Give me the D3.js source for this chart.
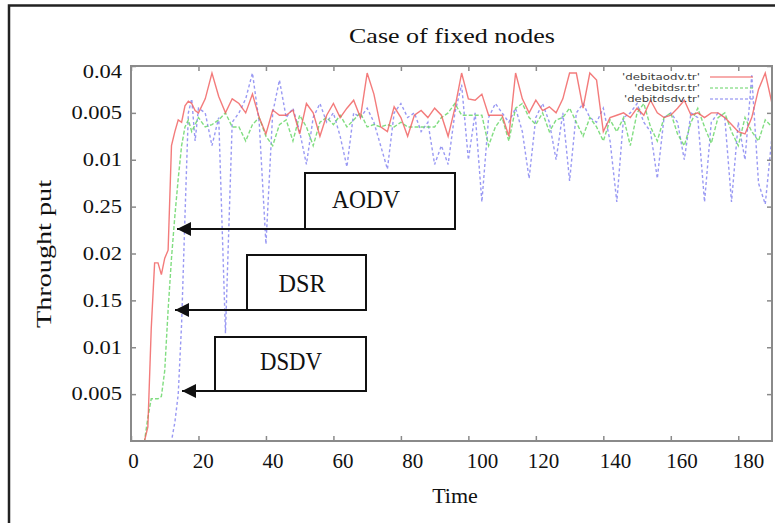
<!DOCTYPE html>
<html>
<head>
<meta charset="utf-8">
<script src="https://cdn.jsdelivr.net/npm/d3@7"></script>
<style>
  html, body { margin: 0; padding: 0; background: #fff; }
  svg { display: block; }
</style>
</head>
<body>
<div id="chart"></div>
<script>
// time samples (s), shared by the three traces
const time = [0, 1, 2, 3, 4, 5, 6, 7, 8, 9, 10, 11, 12, 13, 14, 15, 16, 17, 18, 19, 20,
  22, 24, 26, 28, 30, 32, 34, 36, 38, 40,
  42, 44, 46, 48, 50, 52, 54, 56, 58, 60,
  62, 64, 66, 68, 70, 72, 74, 76, 78, 80,
  82, 84, 86, 88, 90, 92, 94, 96, 98, 100,
  102, 104, 106, 108, 110, 112, 114, 116, 118, 120,
  122, 124, 126, 128, 130, 132, 134, 136, 138, 140,
  142, 144, 146, 148, 150, 152, 154, 156, 158, 160,
  162, 164, 166, 168, 170, 172, 174, 176, 178, 180,
  182, 184, 186, 188, 190]

// values are read in units of the y tick rows (0 = bottom, 8 = top)
const aodv = [0, 0, 0, 0, 0, 0.3, 2.4, 3.8, 3.8, 3.55, 3.9, 4.07, 6.3, 6.6, 6.85, 6.8, 7.15, 7.25, 7.2, 7.05, 7.0,
  7.3, 7.85, 7.35, 7.0, 7.3, 7.2, 7.0, 7.4, 6.9, 6.55,
  7.06, 6.95, 6.95, 7.06, 6.55, 7.2, 7.0, 6.5, 6.95, 7.2,
  6.9, 7.1, 7.27, 6.9, 7.85, 7.4, 6.7, 6.6, 7.13, 6.9,
  6.5, 6.95, 7.05, 6.9, 7.1, 6.95, 6.5, 7.1, 7.85, 7.3,
  7.27, 7.4, 6.95, 6.95, 6.95, 6.5, 7.85, 7.3, 7.0, 7.27,
  7.05, 7.13, 7.0, 7.3, 7.85, 7.85, 7.1, 7.85, 7.7, 6.6,
  6.9, 6.95, 7.0, 6.9, 7.1, 6.95, 7.27, 7.0, 6.9, 6.95,
  7.1, 7.27, 6.95, 7.0, 6.9, 7.0, 7.0, 6.9, 6.75, 6.6,
  6.55, 6.9, 7.5, 7.85, 7.2]

const dsr = [0, 0, 0, 0, 0, 0.5, 0.9, 0.9, 0.9, 0.95, 1.5, 2.8, 3.9, 4.8, 5.6, 6.3, 6.7, 6.85, 6.6, 6.75, 6.9,
  6.7, 6.75, 6.85, 7.0, 6.7, 6.7, 6.4, 6.75, 6.9, 6.5,
  6.3, 6.75, 6.85, 6.4, 6.95, 6.7, 6.3, 6.8, 6.9, 6.75,
  6.95, 6.7, 6.85, 7.0, 6.7, 6.75, 6.7, 6.75, 6.7, 6.8,
  6.7, 6.7, 6.7, 6.7, 6.7, 6.9, 7.0, 7.2, 6.95, 6.95,
  6.95, 6.95, 6.3, 6.7, 6.9, 6.4, 7.1, 7.2, 6.9, 6.75,
  7.0, 6.6, 6.85, 6.9, 7.1, 6.8, 6.5, 6.9, 6.7, 6.4,
  6.85, 6.6, 6.9, 6.3, 7.0, 7.2, 6.7, 6.4, 6.9, 7.0,
  6.55, 6.3, 6.8, 7.1, 6.7, 6.35, 6.9, 7.0, 6.6, 6.3,
  6.9, 6.6, 6.4, 6.85, 6.7]

const dsdv = [0, 0, 0, 0, 0, 0, 0, 0, 0, 0, 0, 0, 0, 0.4, 1.0, 2.5, 4.8, 7.0, 7.3, 6.4, 7.1,
  7.0, 6.3, 6.9, 2.3, 6.8, 7.0, 7.3, 7.85, 6.8, 4.2,
  7.0, 7.7, 6.9, 7.1, 6.6, 5.9, 6.9, 7.2, 6.8, 7.0,
  6.5, 5.85, 7.0, 6.9, 7.1, 6.8, 6.3, 5.8, 7.0, 7.2,
  6.9, 7.0, 6.6, 6.8, 5.9, 6.3, 5.9, 7.0, 7.6, 6.0,
  7.0, 5.1, 6.9, 7.2, 7.0, 6.8, 7.1, 6.6, 5.6, 6.9,
  7.2, 6.8, 6.0, 7.0, 5.55, 7.0, 7.2, 6.9, 6.8, 7.1,
  6.4, 5.1, 6.9, 7.0, 7.2, 6.8, 6.6, 5.6, 6.9, 7.0,
  6.8, 6.0, 7.0, 6.9, 5.1, 6.8, 7.0, 6.9, 5.1, 6.8,
  6.0, 7.8, 5.5, 5.05, 6.5]

const xTicks = [0, 20, 40, 60, 80, 100, 120, 140, 160, 180]
const yTickRows = [1, 2, 3, 4, 5, 6, 7, 8]
const yTickLabels = ['0.005', '0.01', '0.15', '0.02', '0.25', '0.01', '0.005', '0.04']
const legendNames = ["'debitaodv.tr'", "'debitdsr.tr'", "'debitdsdv.tr'"]
const protocolNames = ['AODV', 'DSR', 'DSDV']

const width = 775
const height = 523
const serif = "'Liberation Serif', 'Times New Roman', serif"

const svg = d3.select('#chart')
  .append('svg')
  .attr('width', width)
  .attr('height', height)

// outer frame of the pasted figure (right and bottom edges are cut off)
svg.append('rect')
  .attr('x', 9)
  .attr('y', 5.5)
  .attr('width', 820)
  .attr('height', 560)
  .attr('fill', 'none')
  .attr('stroke', '#222')
  .attr('stroke-width', 2.5)

const plot = { left: 131, right: 772, top: 66, bottom: 441 }

const x = d3.scaleLinear().domain([0, 190]).range([plot.left, plot.right])
// the typed-over x labels drift a little from the tick marks
const xLabel = d3.scaleLinear().domain([0, 100, 120, 140, 180]).range([133, 482, 543, 615, 748])
const y = d3.scaleLinear().domain([0, 8]).range([plot.bottom, plot.top])

const defs = svg.append('defs')
defs.append('clipPath')
  .attr('id', 'plot-clip')
  .append('rect')
  .attr('x', plot.left)
  .attr('y', plot.top - 2)
  .attr('width', plot.right - plot.left)
  .attr('height', plot.bottom - plot.top + 2)

// series
const seriesColors = ['#f05a5a', '#62d462', '#8080f0']
const series = [
  { values: dsdv, color: seriesColors[2], dash: '3,2.5' },
  { values: dsr, color: seriesColors[1], dash: '4,2' },
  { values: aodv, color: seriesColors[0], dash: null }
]

const line = d3.line()
  .x(d => x(d.t))
  .y(d => y(d.v))

const lines = svg.append('g').attr('clip-path', 'url(#plot-clip)')
series.forEach(s => {
  const pts = time.map((t, i) => ({ t: t, v: s.values[i] })).filter(d => d.v !== undefined)
  lines.append('path')
    .datum(pts)
    .attr('d', line)
    .attr('fill', 'none')
    .attr('stroke', s.color)
    .attr('stroke-width', 1.4)
    .attr('stroke-opacity', 0.8)
    .attr('stroke-dasharray', s.dash)
})

// legend (gnuplot style, top right inside the plot)
const legendWidths = [78, 66, 76]
legendNames.forEach((name, i) => {
  const ly = 77 + i * 11
  svg.append('text')
    .attr('x', 700)
    .attr('y', ly + 3)
    .attr('text-anchor', 'end')
    .attr('font-family', "'DejaVu Sans', sans-serif")
    .attr('font-size', '9px')
    .attr('textLength', legendWidths[i])
    .attr('lengthAdjust', 'spacingAndGlyphs')
    .attr('fill', '#3a3a3a')
    .text(name)
  svg.append('line')
    .attr('x1', 710)
    .attr('x2', 753)
    .attr('y1', ly)
    .attr('y2', ly)
    .attr('stroke', seriesColors[i])
    .attr('stroke-width', 1.2)
    .attr('stroke-dasharray', i === 0 ? null : '3,2')
})

// plot frame
svg.append('rect')
  .attr('x', plot.left)
  .attr('y', plot.top)
  .attr('width', plot.right - plot.left)
  .attr('height', plot.bottom - plot.top)
  .attr('fill', 'none')
  .attr('stroke', '#8a8a8a')
  .attr('stroke-width', 2)

const tickStyle = g => {
  g.select('.domain').remove()
  g.selectAll('.tick line').attr('stroke', '#8a8a8a').attr('stroke-width', 1.5)
}

// inward tick marks on all four sides
svg.append('g')
  .attr('transform', `translate(0,${plot.bottom})`)
  .call(d3.axisBottom(x).tickValues(xTicks).tickSize(-5).tickFormat(''))
  .call(tickStyle)
svg.append('g')
  .attr('transform', `translate(0,${plot.top})`)
  .call(d3.axisTop(x).tickValues(xTicks).tickSize(-5).tickFormat(''))
  .call(tickStyle)
svg.append('g')
  .attr('transform', `translate(${plot.right},0)`)
  .call(d3.axisRight(y).tickValues(yTickRows).tickSize(-5).tickFormat(''))
  .call(tickStyle)

// left axis with the typed-over labels
const yAxis = svg.append('g')
  .attr('transform', `translate(${plot.left},0)`)
  .call(d3.axisLeft(y).tickValues(yTickRows).tickSize(-5)
    .tickFormat((d, i) => yTickLabels[i]))
  .call(tickStyle)
yAxis.selectAll('.tick text')
  .attr('x', -9 / 1.25)
  .attr('transform', 'scale(1.25,1)')
  .attr('dy', d => d === 8 ? '0.65em' : '0.32em')
  .attr('font-family', serif)
  .attr('font-size', '18px')
  .attr('fill', '#111')

// bottom labels
const xAxisLabels = svg.append('g')
  .attr('transform', `translate(0,${plot.bottom})`)
  .call(d3.axisBottom(xLabel).tickValues(xTicks).tickSize(0).tickPadding(12))
xAxisLabels.select('.domain').remove()
xAxisLabels.selectAll('.tick text')
  .attr('font-family', serif)
  .attr('font-size', '21px')
  .attr('fill', '#111')

// titles
svg.append('text')
  .attr('x', 452)
  .attr('y', 43)
  .attr('text-anchor', 'middle')
  .attr('font-family', serif)
  .attr('font-size', '21px')
  .attr('textLength', 206)
  .attr('lengthAdjust', 'spacingAndGlyphs')
  .attr('fill', '#111')
  .text('Case of fixed nodes')

svg.append('text')
  .attr('x', 455)
  .attr('y', 503)
  .attr('text-anchor', 'middle')
  .attr('font-family', serif)
  .attr('font-size', '22px')
  .attr('fill', '#111')
  .text('Time')

svg.append('text')
  .attr('transform', 'translate(51,254) rotate(-90)')
  .attr('text-anchor', 'middle')
  .attr('font-family', serif)
  .attr('font-size', '22px')
  .attr('textLength', 148)
  .attr('lengthAdjust', 'spacingAndGlyphs')
  .attr('fill', '#111')
  .text('Throught put')

// callout boxes with arrows pointing at the rising edges
defs.append('marker')
  .attr('id', 'arrow-head')
  .attr('markerUnits', 'userSpaceOnUse')
  .attr('markerWidth', 16)
  .attr('markerHeight', 14)
  .attr('refX', 14)
  .attr('refY', 7)
  .attr('orient', 'auto')
  .append('path')
  .attr('d', 'M0,0 L14,7 L0,14 Z')
  .attr('fill', '#111')

const callouts = [
  { box: [305, 173, 455, 229], tip: 177, text: [366, 208, 68] },
  { box: [247, 255, 366, 310], tip: 175, text: [302, 292, 47] },
  { box: [215, 337, 366, 391], tip: 182, text: [291, 370, 62] }
]

callouts.forEach((c, i) => {
  const [x0, y0, x1, y1] = c.box
  svg.append('line')
    .attr('x1', x0)
    .attr('y1', y1)
    .attr('x2', c.tip)
    .attr('y2', y1)
    .attr('stroke', '#111')
    .attr('stroke-width', 2)
    .attr('marker-end', 'url(#arrow-head)')
  svg.append('rect')
    .attr('x', x0)
    .attr('y', y0)
    .attr('width', x1 - x0)
    .attr('height', y1 - y0)
    .attr('fill', '#fff')
    .attr('stroke', '#111')
    .attr('stroke-width', 2)
  svg.append('text')
    .attr('x', c.text[0])
    .attr('y', c.text[1])
    .attr('text-anchor', 'middle')
    .attr('font-family', serif)
    .attr('font-size', '26px')
    .attr('textLength', c.text[2])
    .attr('lengthAdjust', 'spacingAndGlyphs')
    .attr('fill', '#111')
    .text(protocolNames[i])
})
</script>
</body>
</html>
